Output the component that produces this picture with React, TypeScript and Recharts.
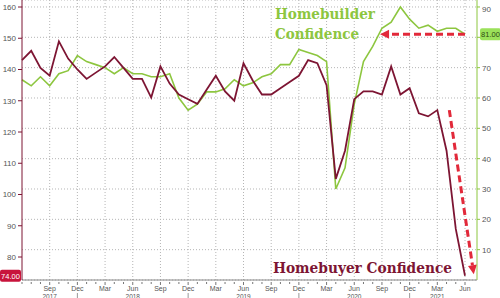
import { ComposedChart, Line, XAxis, YAxis, CartesianGrid, ReferenceLine } from 'recharts';

// monthly, Jun 2017 .. Jun 2021
const months = [
  'Jun 2017', 'Jul 2017', 'Aug 2017', 'Sep 2017', 'Oct 2017', 'Nov 2017', 'Dec 2017',
  'Jan 2018', 'Feb 2018', 'Mar 2018', 'Apr 2018', 'May 2018', 'Jun 2018', 'Jul 2018',
  'Aug 2018', 'Sep 2018', 'Oct 2018', 'Nov 2018', 'Dec 2018',
  'Jan 2019', 'Feb 2019', 'Mar 2019', 'Apr 2019', 'May 2019', 'Jun 2019', 'Jul 2019',
  'Aug 2019', 'Sep 2019', 'Oct 2019', 'Nov 2019', 'Dec 2019',
  'Jan 2020', 'Feb 2020', 'Mar 2020', 'Apr 2020', 'May 2020', 'Jun 2020', 'Jul 2020',
  'Aug 2020', 'Sep 2020', 'Oct 2020', 'Nov 2020', 'Dec 2020',
  'Jan 2021', 'Feb 2021', 'Mar 2021', 'Apr 2021', 'May 2021', 'Jun 2021',
];

// left axis
const homebuyer = [
  143, 146, 140.5, 138, 149, 143.5, 140,
  137, 139, 141, 144, 140.5, 137, 137, 131, 141, 135.5, 132, 130.5,
  129, 133.5, 138, 133, 130, 142, 136.5, 132, 132, 134, 136, 138,
  143, 142, 135, 105, 114, 130.5, 133, 133, 132, 141, 132, 134,
  126, 125, 127, 114, 89, 74,
];

// right axis
const homebuilder = [
  66, 64, 67, 64, 68, 69, 74,
  72, 71, 70, 68, 70, 68, 68, 67, 67, 68, 60, 56,
  58, 62, 62, 63, 66, 64, 65, 67, 68, 71, 71, 76,
  75, 74, 72, 30, 37, 58, 72, 77, 83, 85, 90, 86,
  83, 84, 82, 83, 83, 81,
];

const leftTicks = [80, 90, 100, 110, 120, 130, 140, 150, 160];
const rightTicks = [10, 20, 30, 40, 50, 60, 70, 80, 90];
const quarterMonths = ['Mar', 'Jun', 'Sep', 'Dec'];
const yearLabels = ['2017', '2018', '2019', '2020', '2021'];
const yearLabelMonth = ['Sep 2017', 'Jun 2018', 'Jun 2019', 'Jun 2020', 'Mar 2021'];

const RED = '#7d1533';
const GREEN = '#8dc63f';
const ARROW = '#e2293a';
const SANS = "'Liberation Sans', Arial, sans-serif";

const data = months.map((m, i) => ({ idx: i, month: m, buyer: homebuyer[i], builder: homebuilder[i] }));
const monthIdx = months.map((_, i) => i);
const quarterIdx = monthIdx.filter((i) => i > 0 && quarterMonths.includes(months[i].split(' ')[0]));

const MonthTick = ({ x, y, payload }: any) => {
  const i = payload.value;
  const [mon] = months[i].split(' ');
  const isQ = quarterIdx.includes(i);
  const yl = yearLabelMonth.indexOf(months[i]);
  return (
    <g>
      <line x1={x} x2={x} y1={y} y2={y + (isQ ? 3 : 2)} stroke="#777" />
      {isQ && (
        <text x={x} y={y + 9} textAnchor="middle" fontSize={7} fill="#555" fontFamily={SANS}>{mon}</text>
      )}
      {mon === 'Dec' && <line x1={x} x2={x} y1={y + 11} y2={y + 18} stroke="#999" />}
      {yl >= 0 && (
        <text x={x} y={y + 16.5} textAnchor="middle" fontSize={6.5} fill="#555" fontFamily={SANS}>{yearLabels[yl]}</text>
      )}
    </g>
  );
};

// the 80 label sits under the last-value badge
const RightTick = ({ x, y, payload }: any) =>
  payload.value === 81 || payload.value === 80 ? <g /> : (
    <text x={x} y={y + 3} fontSize={8} fill="#555" fontFamily={SANS}>{payload.value}</text>
  );

const Arrow = (props: any) => {
  const { x1, y1, x2, y2 } = props;
  const ang = Math.atan2(y2 - y1, x2 - x1);
  const len = 9;
  const half = 4.5;
  const bx = x2 - Math.cos(ang) * len;
  const by = y2 - Math.sin(ang) * len;
  const px = -Math.sin(ang) * half;
  const py = Math.cos(ang) * half;
  return (
    <g>
      <line x1={x1} y1={y1} x2={bx} y2={by} stroke={ARROW} strokeWidth={3} strokeDasharray="7 4" />
      <polygon points={`${x2},${y2} ${bx + px},${by + py} ${bx - px},${by - py}`} fill={ARROW} />
    </g>
  );
};

const Badge = ({ viewBox, value, side, bg, fg }: any) => {
  const y = viewBox.y;
  const x = side === 'left' ? 0 : viewBox.x + viewBox.width + 3;
  return (
    <g>
      <rect x={x} y={y - 6} width={21} height={12} rx={2} fill={bg} />
      <text x={x + 10.5} y={y + 3} textAnchor="middle" fontSize={7.5} fill={fg} fontFamily={SANS}>{value}</text>
    </g>
  );
};

export default function App() {
  const tickStyle = { fontSize: 8, fill: '#555', fontFamily: SANS };
  return (
    <div style={{ position: 'absolute', left: 0, top: 0, width: 500, height: 298, background: '#fff' }}>
      <ComposedChart width={500} height={298} data={data}
        margin={{ top: 0, right: 0, left: 0, bottom: 0 }}>
        <CartesianGrid yAxisId="right" stroke="#b5b5b5" strokeDasharray="1 2"
          verticalValues={quarterIdx} />
        <XAxis dataKey="idx" type="number" domain={[0, 49.3]} ticks={monthIdx}
          interval={0} height={18} tickSize={0} tickLine={false}
          axisLine={{ stroke: '#888' }} tick={<MonthTick />} />
        <YAxis yAxisId="left" orientation="left" width={22} domain={[72.64, 162.24]}
          ticks={leftTicks} tick={tickStyle} tickSize={4} tickMargin={2}
          axisLine={{ stroke: RED }} tickLine={{ stroke: RED }} />
        <YAxis yAxisId="right" orientation="right" width={23} domain={[0, 92.3]}
          ticks={rightTicks} tick={<RightTick />} tickSize={3} tickMargin={2}
          axisLine={{ stroke: GREEN }} tickLine={{ stroke: GREEN }} />
        <Line yAxisId="right" dataKey="builder" stroke={GREEN} strokeWidth={1.6}
          dot={false} isAnimationActive={false} />
        <Line yAxisId="left" dataKey="buyer" stroke={RED} strokeWidth={1.8}
          dot={false} isAnimationActive={false} />
        <ReferenceLine yAxisId="right" segment={[{ x: 48, y: 81 }, { x: 38.8, y: 81 }]}
          shape={<Arrow />} />
        <ReferenceLine yAxisId="left" segment={[{ x: 46.3, y: 127 }, { x: 48.95, y: 74.5 }]}
          shape={<Arrow />} />
        <ReferenceLine yAxisId="left" y={74} stroke="none"
          label={<Badge value="74.00" side="left" bg="#c8143c" fg="#fff" />} />
        <ReferenceLine yAxisId="right" y={81} stroke="none"
          label={<Badge value="81.00" side="right" bg="#9be15a" fg="#2d4a12" />} />
      </ComposedChart>
      <svg width={500} height={298} style={{ position: 'absolute', left: 0, top: 0, pointerEvents: 'none' }}>
        <g fontFamily="'DejaVu Serif', serif" fontSize={14} fontWeight="bold">
          <text x={275} y={19} fill={GREEN} textLength={100} lengthAdjust="spacingAndGlyphs">Homebuilder</text>
          <text x={275} y={39} fill={GREEN} textLength={84} lengthAdjust="spacingAndGlyphs">Confidence</text>
          <text x={273} y={273} fill={RED} textLength={179} lengthAdjust="spacingAndGlyphs">Homebuyer Confidence</text>
        </g>
      </svg>
    </div>
  );
}
